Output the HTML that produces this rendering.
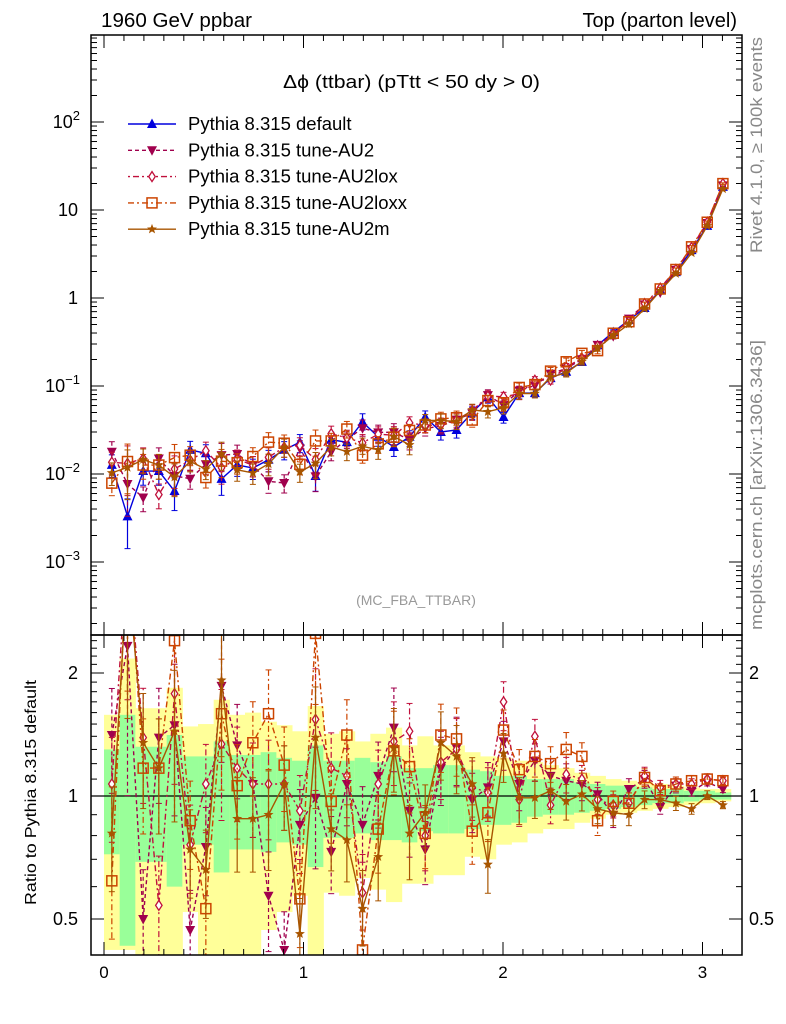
<!DOCTYPE html>
<html><head><meta charset="utf-8"><style>
body{margin:0;background:#fff}
svg{display:block;font-family:"Liberation Sans",sans-serif}
</style></head><body>
<svg id="chart" width="786" height="1024" viewBox="0 0 786 1024" xmlns="http://www.w3.org/2000/svg">
<defs>
<clipPath id="cm"><rect x="91" y="35" width="651" height="600"/></clipPath>
<clipPath id="cr"><rect x="91" y="635" width="651" height="320"/></clipPath>
</defs>
<g id="bands" clip-path="url(#cr)"></g>
<g id="ratio" clip-path="url(#cr)"></g>
<g id="main" clip-path="url(#cm)"></g>
<g id="axes"></g>
<text x="101" y="27" font-size="20" textLength="151" lengthAdjust="spacingAndGlyphs">1960 GeV ppbar</text>
<text x="737" y="27" font-size="20" text-anchor="end">Top (parton level)</text>
<text x="283" y="88" font-size="18" textLength="257" lengthAdjust="spacingAndGlyphs">Δϕ (ttbar) (pTtt &lt; 50 dy &gt; 0)</text>
<text x="416" y="605" font-size="14" fill="#999" text-anchor="middle">(MC_FBA_TTBAR)</text>
<text transform="translate(762,253) rotate(-90)" font-size="16.5" fill="#888" textLength="216" lengthAdjust="spacingAndGlyphs">Rivet 4.1.0, ≥ 100k events</text>
<text transform="translate(762,630) rotate(-90)" font-size="16.5" fill="#888" textLength="290" lengthAdjust="spacingAndGlyphs">mcplots.cern.ch [arXiv:1306.3436]</text>
<text transform="translate(36,905) rotate(-90)" font-size="16" textLength="225" lengthAdjust="spacingAndGlyphs">Ratio to Pythia 8.315 default</text>
<g id="legend"></g>
</svg>
<script>
const NS="http://www.w3.org/2000/svg";
const defaultVals=[0.0127,0.0033,0.0108,0.0108,0.0064,0.0188,0.0172,0.0088,0.0127,0.0117,0.0145,0.0188,0.023,0.0095,0.0245,0.023,0.039,0.0265,0.0203,0.0265,0.0445,0.030,0.0316,0.050,0.075,0.0445,0.083,0.083,0.123,0.145,0.188,0.29,0.41,0.56,0.77,1.23,1.97,3.5,6.6,18.3];
const ratioAU2=[1.41,2.33,0.5,1.39,1.49,0.47,0.75,1.86,1.33,1.07,0.57,0.42,0.85,0.99,0.73,1.07,0.85,1.12,1.47,0.92,0.74,1.17,1.31,0.98,1.05,1.36,1.07,1.22,1.12,1.09,1.07,1.01,0.9,1.04,1.1,0.94,1.06,1.03,1.08,1.04];
const ratioAU2lox=[1.07,4.0,1.39,0.54,1.78,0.76,1.07,1.34,1.17,1.07,1.07,1.07,0.92,1.54,1.17,1.12,0.58,1.07,1.36,1.44,0.80,1.21,1.30,1.05,1.02,1.70,0.98,1.40,0.95,1.13,1.1,0.98,0.95,0.96,1.12,1.05,1.07,1.07,1.1,1.09];
const ratioAU2loxx=[0.62,4.2,1.17,1.17,2.4,0.87,0.53,1.59,1.06,1.35,1.59,1.19,0.56,2.5,0.97,1.41,0.42,0.83,1.29,1.18,0.81,1.41,1.38,0.82,0.91,1.45,1.16,1.25,1.2,1.30,1.25,0.87,0.97,0.96,1.11,1.03,1.07,1.09,1.1,1.09];
const ratioAU2m=[0.81,3.6,1.35,1.17,1.44,0.74,0.66,1.92,0.88,0.88,0.9,1.07,0.46,1.39,0.83,0.78,0.53,0.71,1.31,0.81,0.91,1.35,1.25,1.07,0.68,1.27,0.99,0.99,1.03,0.97,1.01,0.93,0.91,0.9,0.98,0.98,0.96,0.93,1.0,0.95];
const greenHi=[1.30,1.58,1.32,1.32,1.41,1.25,1.25,1.36,1.26,1.26,1.28,1.24,1.22,1.33,1.22,1.22,1.24,1.21,1.25,1.17,1.17,1.19,1.19,1.16,1.15,1.12,1.12,1.10,1.10,1.10,1.08,1.07,1.06,1.06,1.05,1.04,1.04,1.03,1.03,1.02];
const greenLo=[0.72,0.43,0.69,0.69,0.60,0.76,0.76,0.65,0.74,0.74,0.73,0.77,0.76,0.67,0.79,0.79,0.81,0.78,0.78,0.77,0.82,0.81,0.81,0.83,0.85,0.85,0.86,0.89,0.90,0.90,0.91,0.92,0.93,0.94,0.95,0.96,0.96,0.97,0.98,0.98];
const yellowHi=[1.58,2.17,1.64,1.64,1.84,1.48,1.50,1.72,1.58,1.60,1.52,1.49,1.44,1.66,1.42,1.44,1.36,1.42,1.47,1.33,1.40,1.33,1.33,1.28,1.25,1.24,1.22,1.21,1.19,1.17,1.14,1.12,1.10,1.09,1.08,1.07,1.06,1.05,1.04,1.04];
const yellowLo=[0.42,0.42,0.38,0.38,0.38,0.52,0.38,0.38,0.38,0.38,0.47,0.52,0.57,0.38,0.58,0.57,0.63,0.59,0.55,0.61,0.61,0.64,0.64,0.71,0.70,0.76,0.77,0.81,0.83,0.83,0.86,0.88,0.90,0.91,0.92,0.93,0.94,0.95,0.96,0.97];
const xTicks=["0","1","2","3"];
const mainTickLabels=["10^-3","10^-2","10^-1","1","10","10^2"];
const ratioTickLabels=["0.5","1","2"];
const NB=40, XMAX=Math.PI;

function X(v){return 104+199.5*v;}
function YM(v){return 298-88*Math.log10(v);}
function YR(r){return 796-123*Math.log2(r);}
function binC(i){return (i+0.5)*XMAX/NB;}
function binL(i){return i*XMAX/NB;}
function mk(tag,attrs,parent){const e=document.createElementNS(NS,tag);for(const k in attrs)e.setAttribute(k,attrs[k]);parent.appendChild(e);return e;}

const G={bands:document.getElementById('bands'),ratio:document.getElementById('ratio'),main:document.getElementById('main'),axes:document.getElementById('axes'),legend:document.getElementById('legend')};

for(let i=0;i<NB;i++){
  const x0=X(binL(i)),x1=X(binL(i+1));
  let r=mk('rect',{x:x0,y:YR(yellowHi[i]),width:x1-x0+0.5,height:YR(yellowLo[i])-YR(yellowHi[i]),fill:'#ffff99'},G.bands);
  
  
  r=mk('rect',{x:x0,y:YR(greenHi[i]),width:x1-x0+0.5,height:YR(greenLo[i])-YR(greenHi[i]),fill:'#99ff99'},G.bands);
  
  
}
let one=mk('line',{x1:91,x2:742,y1:YR(1),y2:YR(1),stroke:'#000','stroke-width':1.3},G.bands);



const series=[
 {name:'default',label:'Pythia 8.315 default',color:'#0000dd',dash:'',marker:'tri-up',ratio:null},
 {name:'au2',label:'Pythia 8.315 tune-AU2',color:'#a0004d',dash:'4,3',marker:'tri-down',ratio:ratioAU2},
 {name:'au2lox',label:'Pythia 8.315 tune-AU2lox',color:'#c0103c',dash:'2,3,6,3',marker:'diamond',ratio:ratioAU2lox},
 {name:'au2loxx',label:'Pythia 8.315 tune-AU2loxx',color:'#cc4400',dash:'6,3,2,3',marker:'square',ratio:ratioAU2loxx},
 {name:'au2m',label:'Pythia 8.315 tune-AU2m',color:'#a85500',dash:'',marker:'star',ratio:ratioAU2m}
];

function marker(type,x,y,c,parent,s){
  s=s||5;let e;
  if(type==='tri-up')e=mk('polygon',{points:`${x},${y-s*1.1} ${x-s},${y+s*0.8} ${x+s},${y+s*0.8}`,fill:c},parent);
  else if(type==='tri-down')e=mk('polygon',{points:`${x},${y+s*1.1} ${x-s},${y-s*0.8} ${x+s},${y-s*0.8}`,fill:c},parent);
  else if(type==='diamond')e=mk('polygon',{points:`${x},${y-s} ${x-s*0.65},${y} ${x},${y+s} ${x+s*0.65},${y}`,fill:'#fff',stroke:c,'stroke-width':1.3},parent);
  else if(type==='square')e=mk('rect',{x:x-s,y:y-s,width:2*s,height:2*s,fill:'none',stroke:c,'stroke-width':1.5},parent);
  else {let p=[];for(let k=0;k<10;k++){const a=-Math.PI/2+k*Math.PI/5,rr=k%2?s*0.45:s*1.05;p.push((x+rr*Math.cos(a)).toFixed(1)+','+(y+rr*Math.sin(a)).toFixed(1));}
    e=mk('polygon',{points:p.join(' '),fill:c},parent);}
  return e;
}

series.forEach(s=>{
  const vals=defaultVals.map((d,i)=>s.ratio?d*s.ratio[i]:d);
  const rats=defaultVals.map((d,i)=>s.ratio?s.ratio[i]:1);
  const gm=mk('g',{},G.main);
  
  
  let pts=vals.map((v,i)=>X(binC(i)).toFixed(1)+','+YM(v).toFixed(1)).join(' ');
  mk('polyline',{points:pts,fill:'none',stroke:s.color,'stroke-width':1.4,'stroke-dasharray':s.dash},gm);
  vals.forEach((v,i)=>{
    const x=X(binC(i));
    mk('line',{x1:x,x2:x,y1:YM(v*greenHi[i]),y2:YM(v*greenLo[i]),stroke:s.color,'stroke-width':1.2,'stroke-dasharray':s.dash},gm);
    mk('line',{x1:x-3,x2:x+3,y1:YM(v*greenHi[i]),y2:YM(v*greenHi[i]),stroke:s.color,'stroke-width':1},gm);
    mk('line',{x1:x-3,x2:x+3,y1:YM(v*greenLo[i]),y2:YM(v*greenLo[i]),stroke:s.color,'stroke-width':1},gm);
    const m=marker(s.marker,x,YM(v),s.color,gm);
    
    
  });
  if(!s.ratio)return;
  const gr=mk('g',{},G.ratio);
  
  
  pts=rats.map((r,i)=>X(binC(i)).toFixed(1)+','+YR(r).toFixed(1)).join(' ');
  mk('polyline',{points:pts,fill:'none',stroke:s.color,'stroke-width':1.4,'stroke-dasharray':s.dash},gr);
  rats.forEach((r,i)=>{
    const x=X(binC(i));
    const hi=r*greenHi[i],lo=r*greenLo[i];
    mk('line',{x1:x,x2:x,y1:YR(hi),y2:YR(lo),stroke:s.color,'stroke-width':1.2,'stroke-dasharray':s.dash},gr);
    mk('line',{x1:x-3,x2:x+3,y1:YR(hi),y2:YR(hi),stroke:s.color,'stroke-width':1},gr);
    mk('line',{x1:x-3,x2:x+3,y1:YR(lo),y2:YR(lo),stroke:s.color,'stroke-width':1},gr);
    const m=marker(s.marker,x,YR(r),s.color,gr);
    
    
  });
});

series.forEach((s,k)=>{
  const y=124+26.3*k;
  const g=mk('g',{},G.legend);
  
  
  mk('line',{x1:128,x2:176,y1:y,y2:y,stroke:s.color,'stroke-width':1.4,'stroke-dasharray':s.dash},g);
  marker(s.marker,152,y,s.color,g,5);
  const t=mk('text',{x:188,y:y+6,'font-size':18.5},g);t.textContent=s.label;
});

const A=G.axes;
function L(x1,y1,x2,y2,w){mk('line',{x1,y1,x2,y2,stroke:'#000','stroke-width':w||1},A);}
let fr=mk('rect',{x:91,y:35,width:651,height:600,fill:'none',stroke:'#000','stroke-width':1.5},A);


fr=mk('rect',{x:91,y:635,width:651,height:320,fill:'none',stroke:'#000','stroke-width':1.5},A);


for(let k=0;k<=31;k++){
  const v=k/10,x=X(v),maj=(k%10===0),len=maj?13:6;
  [35,635].forEach(yt=>L(x,yt,x,yt+len));
  [635,955].forEach(yb=>L(x,yb,x,yb-len));
}
xTicks.forEach((t,k)=>{const e=mk('text',{x:X(k),y:978,'font-size':17,'text-anchor':'middle'},A);e.textContent=t;
  
  });
for(let d=-4;d<=2;d++){
  for(let m=1;m<=9;m++){
    const v=m*Math.pow(10,d),y=YM(v);
    if(y<35||y>635)continue;
    const len=m===1?13:6;
    L(91,y,91+len,y);L(742,y,742-len,y);
  }
}
mainTickLabels.forEach((t,k)=>{
  const v=Math.pow(10,k-3),y=YM(v);
  const e=mk('text',{x:78,y:y+6,'font-size':18,'text-anchor':'end'},A);
  
  
  const p=t.split('^');
  if(p.length===1)e.textContent=t;
  else{e.textContent=p[0];const sp=mk('tspan',{dy:-8,'font-size':13},e);sp.textContent=p[1].replace('-','−');e.setAttribute('x',80);}
});
for(let k=4;k<=25;k++){
  const r=k/10,y=YR(r);if(y<635||y>955)continue;
  const len=(k===5||k===10||k===20)?13:6;
  L(91,y,91+len,y);L(742,y,742-len,y);
}
ratioTickLabels.forEach(t=>{
  const y=YR(parseFloat(t));
  let e=mk('text',{x:78,y:y+6,'font-size':18,'text-anchor':'end'},A);e.textContent=t;
  
  
  e=mk('text',{x:749,y:y+6,'font-size':18},A);e.textContent=t;
  
  
});
</script>
</body></html>
